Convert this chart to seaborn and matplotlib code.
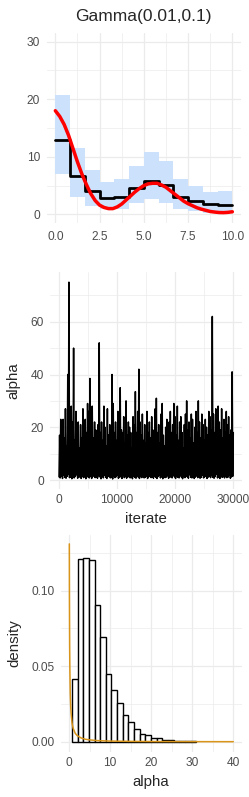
import matplotlib
matplotlib.use("Agg")
import matplotlib.pyplot as plt
from matplotlib.ticker import MultipleLocator
import numpy as np
import seaborn as sns

# --- panel 1: binned estimate, interval band and true curve ---
bin_edges = [0.0, 0.833, 1.667, 2.5, 3.333, 4.167, 5.0, 5.833, 6.667, 7.5, 8.333, 9.167, 10.0]
bin_mean = [13.0, 6.6, 4.0, 2.8, 3.1, 4.5, 5.8, 5.1, 3.1, 2.3, 1.75, 1.6]
bin_upper = [20.8, 11.6, 7.7, 5.7, 6.2, 8.4, 10.8, 9.3, 6.1, 5.0, 3.95, 4.05]
bin_lower = [7.0, 3.05, 1.5, 1.0, 1.0, 1.9, 2.6, 2.0, 0.92, 0.57, 0.3, 0.2]

true_x = [0.0, 0.25, 0.5, 0.75, 1.0, 1.25, 1.5, 1.75, 2.0, 2.25, 2.5, 2.75, 3.0, 3.25,
          3.5, 3.75, 4.0, 4.25, 4.5, 4.75, 5.0, 5.25, 5.5, 5.75, 6.0, 6.25, 6.5, 6.75,
          7.0, 7.25, 7.5, 7.75, 8.0, 8.25, 8.5, 8.75, 9.0, 9.25, 9.5, 9.75, 10.0]
true_y = [18.0, 17.0, 15.6, 13.7, 11.4, 9.1, 7.0, 5.2, 3.6, 2.4, 1.6, 1.2, 1.0, 1.0,
          1.3, 1.8, 2.5, 3.2, 3.9, 4.5, 5.0, 5.3, 5.4, 5.4, 5.1, 4.7, 4.1, 3.5,
          2.9, 2.3, 1.85, 1.5, 1.15, 0.9, 0.7, 0.5, 0.4, 0.32, 0.3, 0.35, 0.45]

# --- panel 2: trace of alpha (thinned, peak / trough pairs) ---
trace_high = [17, 23, 14, 23, 16, 27, 13, 40, 75, 19,
              28, 22, 50, 15, 26, 18, 22, 12, 21, 16,
              27, 14, 23, 18, 29, 26, 38.5, 20, 28, 16,
              22, 19, 17, 21, 52, 18, 22, 15, 28, 20,
              13, 27, 17, 21, 16, 40, 29, 18, 22, 15,
              26, 11, 35, 19, 18, 24, 14, 30, 17, 22,
              20, 18, 12, 24, 21, 33.5, 18, 26, 42, 22,
              17, 25, 15, 21, 14, 26, 18, 22, 16, 24,
              19, 15, 27, 31, 18, 21, 14, 25, 29, 17,
              13, 20, 23, 16, 22, 26, 18, 21, 29, 24,
              17, 28, 15, 22, 24, 18, 12, 21, 25, 30,
              19, 22, 16, 25, 23, 14, 20, 26, 18, 30,
              22, 16, 25, 21, 15, 23, 20, 17, 26, 24,
              19, 62, 25, 18, 27, 17, 28, 22, 19, 27,
              16, 23, 18, 26, 21, 24, 17, 19, 41, 18]
trace_low = [1.2, 0.8, 1.5, 0.6, 1.9, 1.0, 0.7, 1.4, 2.1, 0.9,
             1.1, 0.5, 1.6, 0.8, 1.3, 2.0, 0.7, 1.0, 1.8, 0.6,
             1.4, 0.9, 1.2, 0.5, 1.7, 1.1, 0.8, 1.5, 0.6, 1.3,
             2.2, 0.9, 1.0, 0.7, 1.6, 1.2, 0.5, 1.4, 0.8, 1.9,
             1.0, 0.6, 1.3, 1.7, 0.8, 1.1, 0.4, 1.5, 0.9, 1.2,
             1.8, 0.7, 1.0, 1.4, 0.6, 2.0, 0.9, 1.3, 0.7, 1.1,
             1.6, 0.8, 1.2, 0.5, 1.5, 1.0, 0.7, 1.8, 1.1, 0.6,
             1.3, 0.9, 1.7, 0.8, 1.0, 1.4, 0.6, 1.2, 2.1, 0.9,
             1.1, 0.7, 1.5, 1.0, 0.6, 1.3, 1.8, 0.8, 1.2, 0.5,
             1.4, 0.9, 1.1, 1.6, 0.7, 1.0, 1.3, 0.8, 1.9, 1.2,
             0.6, 1.4, 1.0, 0.8, 1.7, 1.1, 0.5, 1.3, 0.9, 1.5,
             1.2, 0.7, 2.0, 1.0, 0.8, 1.4, 0.6, 1.1, 1.6, 0.9,
             1.3, 0.7, 1.0, 1.8, 0.8, 1.2, 1.5, 0.6, 1.1, 1.4,
             0.9, 1.7, 1.0, 0.7, 1.3, 2.2, 0.8, 1.2, 0.6, 1.5,
             1.0, 1.3, 0.8, 1.6, 0.9, 1.1, 1.9, 0.7, 1.2, 1.4]
n_iter = 30000

# --- panel 3: posterior histogram of alpha and prior density ---
hist_edges = [0.69, 2.07, 3.45, 4.83, 6.21, 7.59, 8.97, 10.34, 11.72, 13.10, 14.48, 15.86,
              17.24, 18.62, 20.0, 21.38, 22.76, 24.14, 25.52, 26.90, 28.28, 29.66, 31.03]
hist_density = [0.0413, 0.1208, 0.1216, 0.1203, 0.0907, 0.0695, 0.0446, 0.0340, 0.0258,
                0.0177, 0.0132, 0.0082, 0.0049, 0.0044, 0.0026, 0.0022, 0.0013, 0.0009,
                0.0007, 0.0005, 0.0004, 0.0003]
prior_x = [0.075, 0.1, 0.15, 0.2, 0.3, 0.4, 0.5, 0.75, 1.0, 1.5, 2.0, 3.0, 4.0, 5.0,
           7.0, 10.0, 15.0, 20.0, 30.0, 40.0]
prior_y = [0.131, 0.098, 0.065, 0.049, 0.032, 0.024, 0.019, 0.0121, 0.0089, 0.0056,
           0.0040, 0.0024, 0.0016, 0.0012, 0.0007, 0.0004, 0.0002, 0.0001, 0.00002, 0.0]

sns.set_style("whitegrid", {"grid.color": "#EBEBEB", "axes.edgecolor": "white"})
plt.rcParams["font.family"] = ["Liberation Sans", "DejaVu Sans"]

TICK = 8.6
LAB = 10.8
GRID = "#EBEBEB"
TXT = "#4D4D4D"

W, H = 249, 797
fig = plt.figure(figsize=(W / 100, H / 100), dpi=100)


def box(left, top, right, bottom):
    return [left / W, 1 - bottom / H, (right - left) / W, (bottom - top) / H]


def style(ax, xmaj, xmin, ymaj, ymin, xpad, ypad):
    ax.xaxis.set_minor_locator(MultipleLocator(xmin))
    ax.yaxis.set_minor_locator(MultipleLocator(ymin))
    ax.grid(which="major", color=GRID, lw=0.9)
    ax.grid(which="minor", color=GRID, lw=0.5)
    ax.set_axisbelow(True)
    for s in ax.spines.values():
        s.set_visible(False)
    ax.tick_params(axis="x", which="both", length=0, pad=xpad, labelsize=TICK, labelcolor=TXT)
    ax.tick_params(axis="y", which="both", length=0, pad=ypad, labelsize=TICK, labelcolor=TXT)


# panel 1
ax1 = fig.add_axes(box(46.5, 33, 241.2, 223))
ax1.fill_between(bin_edges, bin_lower + bin_lower[-1:], bin_upper + bin_upper[-1:],
                 step="post", color="#CCE1FC", lw=0)
sns.lineplot(x=bin_edges, y=bin_mean + bin_mean[-1:], drawstyle="steps-post",
             color="black", lw=2.0, ax=ax1)
sns.lineplot(x=true_x, y=true_y, color="red", lw=2.5, ax=ax1)
ax1.set_xlim(-0.5, 10.5)
ax1.set_ylim(-1.5, 31.5)
ax1.set_xticks([0, 2.5, 5, 7.5, 10], ["0.0", "2.5", "5.0", "7.5", "10.0"])
ax1.set_yticks([0, 10, 20, 30], ["0", "10", "20", "30"])
style(ax1, 2.5, 1.25, 10, 5, 5.5, 4.6)
ax1.set_xlabel("")
ax1.set_ylabel("")
ax1.set_title("Gamma(0.01,0.1)", fontsize=12.5, pad=9)

# panel 2
ax2 = fig.add_axes(box(50.3, 272.4, 242.0, 489))
alpha_trace = [v for pair in zip(trace_low, trace_high) for v in pair]
iterate = np.linspace(1, n_iter, len(alpha_trace))
sns.lineplot(x=iterate, y=alpha_trace, color="black", lw=1.1, ax=ax2)
ax2.set_xlim(-1500, 31500)
ax2.set_ylim(-3.4, 78.7)
ax2.set_xticks([0, 10000, 20000, 30000], ["0", "10000", "20000", "30000"])
ax2.set_yticks([0, 20, 40, 60], ["0", "20", "40", "60"])
style(ax2, 10000, 5000, 20, 10, 3.6, 4.6)
ax2.set_xlabel("iterate", fontsize=LAB, va="center")
ax2.set_ylabel("alpha", fontsize=LAB, va="center")
ax2.xaxis.set_label_coords(0.5, -0.1385)
ax2.yaxis.set_label_coords(-0.193, 0.5)

# panel 3
ax3 = fig.add_axes(box(60.8, 535, 241.5, 751.5))
hist_mid = [(a + b) / 2 for a, b in zip(hist_edges[:-1], hist_edges[1:])]
sns.histplot(x=hist_mid, weights=hist_density, bins=hist_edges, color="white",
             edgecolor="black", linewidth=1.0, alpha=1, ax=ax3)
sns.lineplot(x=prior_x, y=prior_y, color="#D8951A", lw=1.1, ax=ax3)
ax3.set_xlim(-2, 42)
ax3.set_ylim(-0.0065, 0.1369)
ax3.set_xticks([0, 10, 20, 30, 40], ["0", "10", "20", "30", "40"])
ax3.set_yticks([0, 0.05, 0.10], ["0.00", "0.05", "0.10"])
style(ax3, 10, 5, 0.05, 0.025, 3.6, 4.6)
ax3.set_xlabel("alpha", fontsize=LAB, va="center")
ax3.set_ylabel("density", fontsize=LAB, va="center")
ax3.xaxis.set_label_coords(0.5, -0.141)
ax3.yaxis.set_label_coords(-0.259, 0.5)

fig.savefig("out.png", dpi=100)
